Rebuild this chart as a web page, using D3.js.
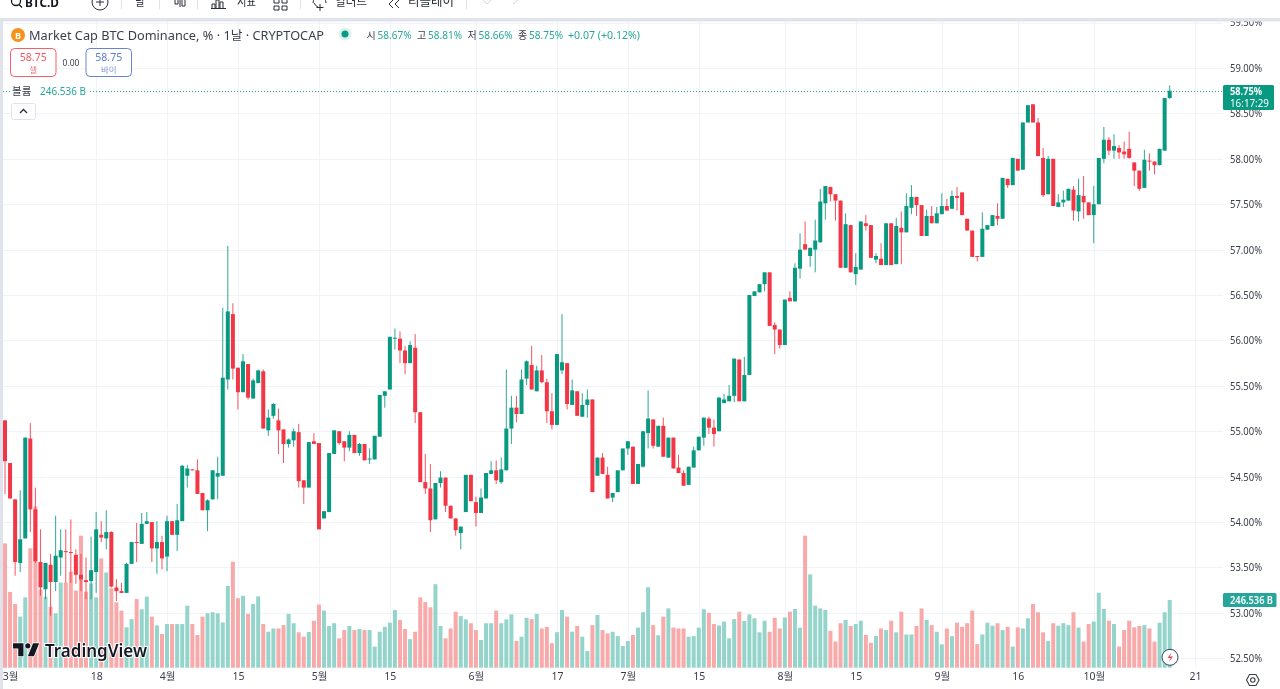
<!DOCTYPE html>
<html>
<head>
<meta charset="utf-8">
<script src="https://cdn.jsdelivr.net/npm/d3@7"></script>
<style>
html,body{margin:0;padding:0;background:#fff;overflow:hidden}
svg{display:block;filter:blur(.35px)}
text{font-family:"Noto Sans","Noto Sans CJK KR",sans-serif}
</style>
</head>
<body>
<svg id="chart" width="1280" height="689"></svg>
<script>
// daily candles
const opens = [
55.12,54.65,54.25,53.55,53.82,54.92,54.14,53.56,53.26,53.53,
53.34,53.61,53.68,53.67,53.64,53.42,53.36,53.35,53.45,53.86,
53.82,53.89,53.28,53.24,53.22,53.54,53.78,53.76,53.98,54.00,
53.71,53.78,53.62,54.01,53.86,54.01,54.51,54.58,54.57,54.32,
54.13,54.25,54.50,54.51,55.57,56.29,55.70,55.43,55.74,55.36,
55.53,55.66,55.01,55.17,55.12,55.02,54.86,54.90,54.99,54.46,
54.38,54.89,54.87,54.04,54.11,54.75,55.00,54.89,54.82,54.96,
54.76,54.86,54.69,54.69,54.94,55.39,55.46,56.02,56.02,55.89,
55.75,55.92,55.21,54.44,54.37,54.03,54.43,54.49,54.18,54.04,
53.88,54.11,54.52,54.22,54.10,54.26,54.53,54.57,54.44,54.57,
55.03,55.26,55.19,55.58,55.73,55.44,55.67,55.54,55.22,55.07,
55.67,55.75,55.29,55.44,55.16,55.29,55.35,54.51,54.71,54.52,
54.27,54.33,54.57,54.81,54.83,54.42,54.61,54.98,55.13,54.83,
55.06,54.71,54.93,54.60,54.54,54.41,54.60,54.79,54.93,55.14,
55.04,55.00,55.31,55.33,55.39,55.79,55.33,55.62,56.49,56.53,
56.62,56.75,56.17,56.12,55.95,56.47,56.43,56.79,57.06,56.93,
57.00,57.08,57.51,57.69,57.61,57.54,56.80,57.27,56.73,56.78,
57.29,57.27,56.89,56.90,56.83,57.29,56.84,57.24,57.19,57.46,
57.58,57.49,57.15,57.37,57.29,57.39,57.48,57.45,57.59,57.63,
57.34,57.21,56.93,56.92,57.22,57.26,57.37,57.34,57.78,57.71,
58.00,57.88,58.40,58.60,58.40,58.01,57.61,58.00,57.47,57.52,
57.54,57.66,57.42,57.59,57.52,57.38,57.50,58.00,58.21,58.09,
58.12,58.08,58.11,57.96,57.87,57.68,57.98,57.97,57.93,58.09,
58.67]
const highs = [
55.12,54.65,54.25,54.35,54.93,55.09,54.38,53.92,53.55,53.65,
54.07,53.92,53.92,54.03,53.70,53.65,53.61,53.84,54.11,54.01,
54.13,53.90,53.37,53.33,53.55,53.78,53.99,54.10,54.11,54.00,
54.01,53.85,54.07,54.01,54.20,54.63,54.63,54.58,54.69,54.32,
54.25,54.57,54.72,56.36,57.04,56.41,55.70,55.85,55.74,55.58,
55.68,55.68,55.24,55.31,55.25,55.02,54.92,55.03,55.08,54.46,
54.88,54.98,54.87,54.12,54.76,55.01,55.00,54.89,55.00,54.96,
54.87,54.86,54.81,54.95,55.40,55.44,56.04,56.13,56.10,55.94,
55.99,56.07,55.21,54.75,54.64,54.43,54.56,54.49,54.18,54.04,
53.95,54.52,54.52,54.28,54.37,54.54,54.67,54.68,54.71,55.68,
55.39,55.39,55.68,55.78,55.94,55.72,55.84,55.58,55.42,55.85,
56.29,55.75,55.57,55.44,55.42,55.46,55.35,54.71,54.76,54.61,
54.32,54.57,54.81,54.89,54.83,54.64,55.00,55.45,55.13,55.06,
55.15,54.93,54.93,54.74,54.57,54.61,54.83,54.94,55.15,55.16,
55.13,55.38,55.41,55.51,55.80,55.79,55.82,56.50,56.54,56.62,
56.75,56.75,56.20,56.12,56.45,56.54,56.85,57.18,57.31,57.02,
57.33,57.67,57.70,57.69,57.61,57.54,57.40,57.27,56.96,57.31,
57.38,57.27,56.96,57.07,57.29,57.29,57.35,57.42,57.62,57.71,
57.58,57.49,57.44,57.48,57.47,57.62,57.56,57.65,57.69,57.63,
57.34,57.21,56.93,57.41,57.27,57.38,57.51,57.79,57.78,58.01,
58.00,58.40,58.59,58.60,58.45,58.12,58.03,58.00,57.61,57.65,
57.67,57.70,57.78,57.81,57.52,57.70,58.01,58.35,58.24,58.27,
58.15,58.19,58.30,57.96,57.87,58.10,58.06,57.97,58.11,58.67,
58.81]
const lows = [
54.31,54.26,53.41,53.45,53.82,53.89,53.55,53.19,53.15,52.97,
53.24,53.41,53.33,53.33,53.32,53.24,53.15,53.15,53.22,53.78,
53.70,53.28,53.13,53.22,53.22,53.54,53.56,53.76,53.98,53.56,
53.43,53.48,53.46,53.86,53.68,54.01,54.38,54.57,54.31,54.13,
53.90,54.25,54.25,54.51,55.46,55.57,55.24,55.43,55.35,55.36,
55.53,55.03,54.95,55.14,54.75,54.65,54.82,54.83,54.38,54.20,
54.38,54.86,53.92,54.04,54.11,54.75,54.85,54.67,54.78,54.76,
54.73,54.68,54.64,54.69,54.94,55.26,55.46,55.90,55.75,55.63,
55.75,55.09,54.44,54.31,53.89,54.03,54.38,54.11,54.04,53.85,
53.70,54.11,54.23,53.95,54.10,54.26,54.53,54.42,54.42,54.57,
54.86,55.10,55.19,55.51,55.46,55.44,55.53,55.09,55.02,55.07,
55.63,55.24,55.29,55.17,55.16,55.15,54.33,54.51,54.53,54.26,
54.22,54.33,54.57,54.74,54.42,54.42,54.60,54.81,54.81,54.83,
54.72,54.71,54.59,54.54,54.40,54.41,54.60,54.79,54.84,54.97,
54.83,55.00,55.31,55.33,55.32,55.33,55.33,55.62,56.49,56.53,
56.54,56.16,55.85,55.91,55.95,56.43,56.43,56.68,57.00,56.81,
56.75,57.08,57.33,57.53,57.32,56.80,56.80,56.75,56.61,56.78,
57.21,56.91,56.85,56.83,56.83,56.83,56.84,56.84,57.19,57.39,
57.37,57.15,57.15,57.29,57.29,57.39,57.43,57.45,57.43,57.38,
57.21,56.92,56.87,56.92,57.22,57.26,57.27,57.34,57.68,57.71,
57.87,57.88,58.40,58.40,58.03,57.58,57.61,57.48,57.47,57.47,
57.54,57.32,57.31,57.34,57.38,57.07,57.50,57.95,58.04,58.00,
58.00,58.00,58.00,57.70,57.65,57.68,57.87,57.83,57.93,58.09,
58.66]
const closes = [
54.67,54.26,53.56,53.81,54.93,54.14,53.57,53.28,53.55,53.34,
53.63,53.69,53.67,53.66,53.42,53.37,53.34,53.47,53.92,53.83,
53.89,53.29,53.24,53.22,53.54,53.78,53.77,53.98,54.01,53.71,
53.78,53.60,54.01,53.86,54.02,54.62,54.59,54.57,54.31,54.13,
54.24,54.57,54.54,55.59,56.32,55.69,55.43,55.77,55.37,55.56,
55.67,55.03,55.15,55.30,55.01,54.86,54.91,55.00,54.45,54.38,
54.88,54.86,53.92,54.12,54.76,55.01,54.87,54.82,54.96,54.76,
54.86,54.68,54.70,54.95,55.40,55.44,56.04,56.03,55.89,55.75,
55.95,55.21,54.44,54.37,54.02,54.43,54.49,54.18,54.04,53.91,
53.95,54.52,54.23,54.10,54.27,54.54,54.57,54.46,54.58,55.03,
55.26,55.19,55.57,55.77,55.46,55.67,55.54,55.22,55.07,55.85,
55.76,55.30,55.45,55.17,55.29,55.35,54.33,54.71,54.53,54.26,
54.32,54.57,54.81,54.89,54.42,54.64,55.00,55.14,54.84,55.06,
54.72,54.93,54.59,54.54,54.40,54.61,54.79,54.94,55.15,55.04,
54.97,55.37,55.35,55.39,55.80,55.33,55.62,56.50,56.54,56.62,
56.75,56.16,56.12,55.95,56.45,56.43,56.80,57.00,57.00,57.02,
57.10,57.53,57.70,57.61,57.54,56.80,57.28,56.75,56.81,57.31,
57.26,56.91,56.93,56.83,57.29,56.83,57.26,57.19,57.48,57.58,
57.49,57.15,57.37,57.29,57.40,57.48,57.43,57.59,57.57,57.38,
57.21,56.92,56.92,57.23,57.27,57.38,57.34,57.79,57.71,58.01,
57.87,58.40,58.59,58.40,58.03,57.60,58.00,57.48,57.52,57.55,
57.67,57.43,57.60,57.52,57.38,57.50,58.01,58.21,58.09,58.14,
58.07,58.05,58.01,57.87,57.67,57.99,57.97,57.93,58.11,58.67,
58.75]
// volume in billions
const volumes = [
453,276,232,186,256,435,587,285,259,222,
198,310,310,350,281,481,277,307,256,398,
347,289,238,208,147,177,250,213,259,186,
154,123,159,159,159,159,226,159,119,186,
198,202,198,165,298,386,253,262,196,232,
260,159,131,143,143,155,196,162,129,113,
130,171,230,208,152,162,107,137,152,137,
141,137,137,77,131,149,164,210,174,141,
104,131,256,239,220,304,152,107,143,204,
188,176,162,137,101,162,162,208,162,176,
194,97,113,182,177,196,143,149,89,129,
210,186,131,152,113,61,155,192,137,125,
131,115,79,97,119,146,202,293,155,118,
186,216,146,143,143,113,115,146,213,200,
159,154,168,107,177,204,170,194,180,129,
171,131,182,143,183,204,214,146,481,340,
226,216,210,134,95,162,174,152,159,171,
119,91,115,143,137,171,129,204,121,121,
152,216,174,155,131,85,143,115,164,149,
162,208,86,121,164,153,162,137,149,77,
147,143,180,232,202,129,97,162,153,162,
155,202,146,95,159,168,273,214,171,159,
77,137,171,147,152,155,143,95,164,202,
246.536]

const priceTicks = [52.5,53,53.5,54,54.5,55,55.5,56,56.5,57,57.5,58,58.5,59,59.5]
const timeTicks = [0,18,32,46,62,76,93,109,123,137,154,168,185,200,215,235]
const timeLabels = ["3월","18","4월","15","5월","15","6월","17","7월","15","8월","15","9월","16","10월","21"]
const legendOHLC = [["시","58.67%"],["고","58.81%"],["저","58.66%"],["종","58.75%"]]
const lastPrice = 58.75
const lastVolume = 246.536

const W = 1280, H = 689
const UP = "#089981", DOWN = "#f23645"
const UPVOL = "#94d4ca", DOWNVOL = "#f8a9a9"
const TEAL = "#26a69a"
const TXT = "#3a3e4a"

const svg = d3.select("#chart")
const x = d3.scaleLinear().domain([0,230]).range([5,1169.7])
const y = d3.scaleLinear().domain([52.5,59]).range([658.3,68])
const yVol = d3.scaleLinear().domain([0,600]).range([667.7,503])
const idx = d3.range(opens.length)
const up = i => closes[i] >= opens[i]

svg.append("rect").attr("width",W).attr("height",H).attr("fill","#fff")

// grid
const grid = svg.append("g").attr("stroke","#f0f3fa").attr("stroke-width",1)
grid.selectAll("line.h").data(priceTicks).join("line").attr("class","h")
    .attr("x1",3).attr("x2",1223)
    .attr("y1",d=>Math.round(y(d))+.5).attr("y2",d=>Math.round(y(d))+.5)
grid.selectAll("line.v").data(timeTicks.slice(1)).join("line").attr("class","v")
    .attr("y1",21).attr("y2",667)
    .attr("x1",d=>Math.round(x(d))+.5).attr("x2",d=>Math.round(x(d))+.5)

// volume
svg.append("g").selectAll("rect").data(idx).join("rect")
    .attr("x",i=>x(i)-2).attr("width",4)
    .attr("y",i=>yVol(volumes[i])).attr("height",i=>yVol(0)-yVol(volumes[i]))
    .attr("fill",i=>up(i)?UPVOL:DOWNVOL)

// candles
const candles = svg.append("g")
candles.selectAll("line").data(idx).join("line")
    .attr("x1",i=>x(i)).attr("x2",i=>x(i))
    .attr("y1",i=>y(highs[i])).attr("y2",i=>y(lows[i]))
    .attr("stroke",i=>up(i)?UP:DOWN).attr("stroke-width",1).attr("stroke-opacity",.85)
candles.selectAll("rect").data(idx).join("rect")
    .attr("x",i=>x(i)-2).attr("width",4)
    .attr("y",i=>y(Math.max(opens[i],closes[i])))
    .attr("height",i=>Math.max(1,Math.abs(y(opens[i])-y(closes[i]))))
    .attr("fill",i=>up(i)?UP:DOWN)

// last price line
svg.append("line").attr("x1",0).attr("x2",1223)
    .attr("y1",Math.round(y(lastPrice))+.5).attr("y2",Math.round(y(lastPrice))+.5)
    .attr("stroke",TEAL).attr("stroke-width",1).attr("stroke-dasharray","1 2")

// legend
const leg = svg.append("g")
leg.append("circle").attr("cx",18).attr("cy",35).attr("r",7).attr("fill","#f7931a")
leg.append("text").attr("x",18).attr("y",38.5).attr("text-anchor","middle").attr("font-size",9).attr("font-weight",700).attr("fill","#fff").text("B")
leg.append("text").attr("x",29).attr("y",39.5).attr("font-size",12.5).attr("fill",TXT)
    .attr("textLength",295).attr("lengthAdjust","spacingAndGlyphs")
    .text("Market Cap BTC Dominance, % · 1날 · CRYPTOCAP")
leg.append("circle").attr("cx",345).attr("cy",34).attr("r",6.5).attr("fill",UP).attr("fill-opacity",.14)
leg.append("circle").attr("cx",345).attr("cy",34).attr("r",3.5).attr("fill",UP)
legendOHLC.forEach((d,k)=>{
    let gx = 366.5 + k*50.5
    leg.append("text").attr("x",gx).attr("y",39).attr("font-size",10).attr("fill",TXT).text(d[0])
    leg.append("text").attr("x",gx+11).attr("y",39).attr("font-size",10.5).attr("fill",TEAL)
        .attr("textLength",34).attr("lengthAdjust","spacingAndGlyphs").text(d[1])
})
leg.append("text").attr("x",568).attr("y",39).attr("font-size",10.5).attr("fill",TEAL)
    .attr("textLength",72).attr("lengthAdjust","spacingAndGlyphs").text("+0.07 (+0.12%)")

// sell / buy boxes
const boxes = [[10.5,45.5,DOWN,"#f23645","셀"],[86,45.5,"#3f66c9","#3f66c9","바이"]]
boxes.forEach(b=>{
    leg.append("rect").attr("x",b[0]).attr("y",48.5).attr("width",b[1]).attr("height",28).attr("rx",4)
        .attr("fill","#fff").attr("stroke",b[2]).attr("stroke-opacity",.8)
    leg.append("text").attr("x",b[0]+b[1]/2).attr("y",61).attr("text-anchor","middle").attr("font-size",10.5)
        .attr("fill",b[3]).attr("fill-opacity",.85).text("58.75")
    leg.append("text").attr("x",b[0]+b[1]/2).attr("y",73).attr("text-anchor","middle").attr("font-size",8.5)
        .attr("fill",b[3]).attr("fill-opacity",.7).text(b[4])
})
leg.append("text").attr("x",71).attr("y",66).attr("text-anchor","middle").attr("font-size",8.5).attr("fill",TXT).text("0.00")

// volume legend
leg.append("rect").attr("x",10).attr("y",84).attr("width",78).attr("height",14).attr("fill","#fff")
leg.append("text").attr("x",12).attr("y",95).attr("font-size",10.5).attr("fill",TXT).text("볼륨")
leg.append("text").attr("x",40).attr("y",95).attr("font-size",10.5).attr("fill",TEAL)
    .attr("textLength",46).attr("lengthAdjust","spacingAndGlyphs").text("246.536 B")
leg.append("rect").attr("x",11.5).attr("y",103.5).attr("width",24).attr("height",16).attr("rx",2)
    .attr("fill","#fff").attr("stroke","#e0e3eb")
leg.append("path").attr("d","M20 113l3.5-3.5 3.5 3.5").attr("fill","none").attr("stroke","#2a2e39").attr("stroke-width",1.3)

// tradingview logo
const logo = svg.append("g")
logo.append("path").attr("transform","translate(11.3,638) scale(.87)")
    .attr("d","M14 6H2v6h6v9h6V6Zm12 15h-7l6-15h7l-6 15Zm-7-9a3 3 0 1 0 0-6 3 3 0 0 0 0 6Z")
    .attr("fill","#131722").attr("stroke","#fff").attr("stroke-width",1.5).attr("paint-order","stroke")
logo.append("text").attr("x",45).attr("y",657).attr("font-size",17).attr("font-weight",600).attr("fill","#131722")
    .attr("stroke","#fff").attr("stroke-width",2).attr("paint-order","stroke")
    .attr("textLength",102).attr("lengthAdjust","spacingAndGlyphs").text("TradingView")

// lightning badge
svg.append("circle").attr("cx",1170).attr("cy",657.3).attr("r",8).attr("fill","#fff").attr("stroke","#3d3f5c").attr("stroke-width",1)
svg.append("path").attr("d","M1171.5 652.5l-4 5.5h3l-1.5 4 4-5.5h-3z").attr("fill","#d8505f")

// axes
const yAxis = svg.append("g").attr("transform","translate(1230,0)")
    .call(d3.axisRight(y).tickValues(priceTicks).tickSize(0).tickPadding(0).tickFormat(d=>d.toFixed(2)+"%"))
yAxis.select(".domain").remove()
yAxis.selectAll("text").attr("font-size",10.5).attr("fill",TXT).attr("font-family",null)
    .attr("textLength",32).attr("lengthAdjust","spacingAndGlyphs")

const xAxis = svg.append("g").attr("transform","translate(0,667)")
    .call(d3.axisBottom(x).tickValues(timeTicks).tickSize(0).tickPadding(6).tickFormat((d,i)=>timeLabels[i]))
xAxis.select(".domain").remove()
xAxis.selectAll("text").attr("font-size",10.5).attr("fill",TXT).attr("font-family",null)
xAxis.selectAll(".tick").filter(d=>d===0).select("text").attr("dx",5)

// price labels
const priceBox = svg.append("g")
priceBox.append("rect").attr("x",1223).attr("y",85).attr("width",51).attr("height",25).attr("rx",1.5).attr("fill",UP)
priceBox.append("text").attr("x",1230).attr("y",95).attr("font-size",10).attr("font-weight",700).attr("fill","#fff")
    .attr("textLength",32).attr("lengthAdjust","spacingAndGlyphs").text(lastPrice.toFixed(2)+"%")
priceBox.append("text").attr("x",1230).attr("y",107).attr("font-size",10).attr("fill","#fff")
    .attr("textLength",39).attr("lengthAdjust","spacingAndGlyphs").text("16:17:29")
const volBox = svg.append("g")
volBox.append("rect").attr("x",1223).attr("y",593).attr("width",53.5).attr("height",14).attr("rx",1.5).attr("fill","#26a69a")
volBox.append("text").attr("x",1230).attr("y",604).attr("font-size",10).attr("font-weight",600).attr("fill","#fff")
    .attr("textLength",43).attr("lengthAdjust","spacingAndGlyphs").text(lastVolume+" B")

// settings icon
svg.append("path").attr("d","M1249.5 674.5h6.5l3 5.5-3 5.5h-6.5l-3-5.5z").attr("fill","none").attr("stroke","#3a3e4a").attr("stroke-width",1.1)
svg.append("circle").attr("cx",1252.8).attr("cy",680).attr("r",2.2).attr("fill","none").attr("stroke","#3a3e4a").attr("stroke-width",1.1)

// window frame
svg.append("rect").attr("x",0).attr("y",0).attr("width",W).attr("height",18).attr("fill","#fff")
svg.append("rect").attr("x",0).attr("y",18).attr("width",W).attr("height",3.5).attr("fill","#e0e3eb")
svg.append("rect").attr("x",0).attr("y",18).attr("width",3).attr("height",H-18).attr("fill","#e0e3eb")

// toolbar, cut off by the top of the shot
const bar = svg.append("g")
bar.append("text").attr("x",25).attr("y",7).attr("font-size",12).attr("font-weight",700).attr("fill","#131722")
    .attr("textLength",34).attr("lengthAdjust","spacingAndGlyphs").text("BTC.D")
bar.append("circle").attr("cx",16).attr("cy",1).attr("r",4.5).attr("fill","none").attr("stroke","#131722").attr("stroke-width",1.3)
bar.append("path").attr("d","M19 4.5l3 3").attr("stroke","#131722").attr("stroke-width",1.3)
bar.append("circle").attr("cx",100).attr("cy",2).attr("r",8).attr("fill","none").attr("stroke","#2a2e39")
bar.append("path").attr("d","M100 -2v8M96 2h8").attr("stroke","#2a2e39")
const barText = [[135,10,"날"],[237,19,"지표"],[335,32,"얼러트"],[408,46,"리플레이"]]
barText.forEach(t=>{
    bar.append("text").attr("x",t[0]).attr("y",6).attr("font-size",12.5).attr("fill","#2a2e39")
        .attr("textLength",t[1]).attr("lengthAdjust","spacingAndGlyphs").text(t[2])
})
const seps = [121,159,197,300,466]
bar.selectAll("line").data(seps).join("line")
    .attr("x1",d=>d+.5).attr("x2",d=>d+.5).attr("y1",0).attr("y2",9).attr("stroke","#e0e3eb")
bar.append("path").attr("d","M175 0v4h3v-4M180 0v7M182 0v6h3v-6").attr("fill","none").attr("stroke","#2a2e39")
bar.append("path").attr("d","M212 8v-4h3v4M216 8v-8h3v8M220 8v-6h3v6M211 8.5h15").attr("fill","none").attr("stroke","#2a2e39")
bar.append("path").attr("d","M274 -1h5v4h-5zM282 -1h5v4h-5zM274 6h5v4h-5zM282 6h5v4h-5z").attr("fill","none").attr("stroke","#2a2e39")
bar.append("path").attr("d","M326 3a6 6 0 1 0-13 0M314 3a8 8 0 0 0 4 4M320 4v7M316.5 7.5h7").attr("fill","none").attr("stroke","#2a2e39")
bar.append("path").attr("d","M393 0l-4 4 4 4M399 0l-4 4 4 4").attr("fill","none").attr("stroke","#2a2e39")
bar.append("path").attr("d","M491 0l-4 4-4-4M513 4l6-5").attr("fill","none").attr("stroke","#d1d4dc")
</script>
</body>
</html>
